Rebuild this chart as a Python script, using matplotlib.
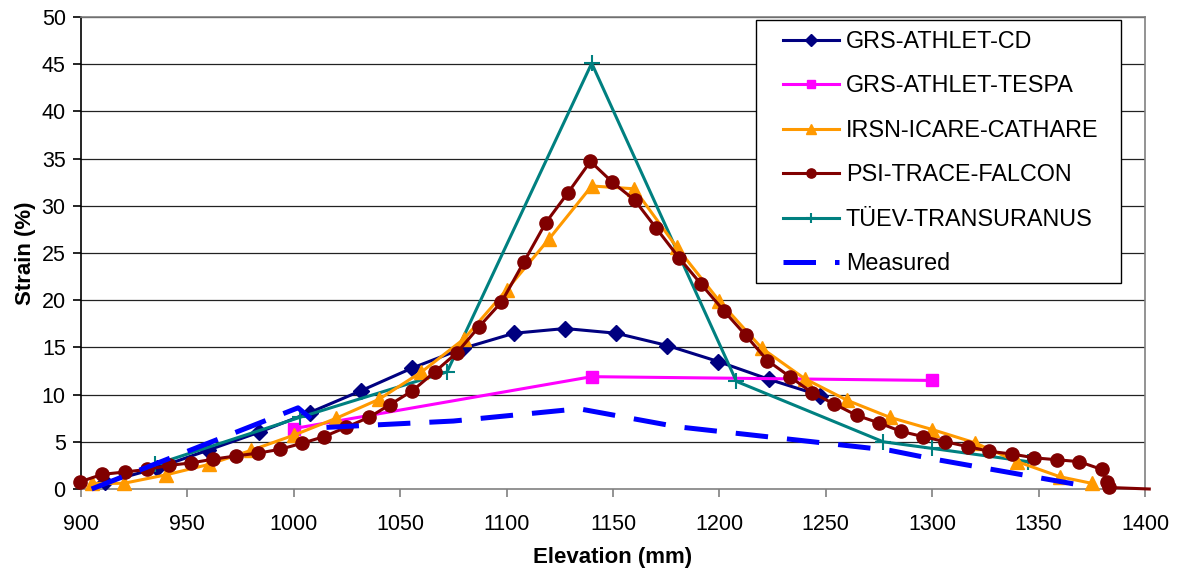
import matplotlib
matplotlib.use("Agg")
import matplotlib.pyplot as plt
from matplotlib.patches import Rectangle

plt.rcParams['font.family'] = ['Liberation Sans', 'DejaVu Sans']

# ---- data ----
cd_x = [911.5, 935.5, 959.5, 983.5, 1007.5, 1031.5, 1055.5, 1079.5, 1103.5, 1127.5,
        1151.5, 1175.5, 1199.5, 1223.5, 1247.5]
cd_y = [0.7, 2.2, 4.1, 6.0, 8.1, 10.4, 12.8, 14.9, 16.5, 17.0, 16.5, 15.2, 13.5, 11.6, 9.9]

tespa_x = [1000, 1140, 1300]
tespa_y = [6.4, 11.9, 11.5]

icare_x = [905, 920, 940, 960, 980, 1000, 1020, 1040, 1060, 1080, 1100, 1120, 1140, 1160,
           1180, 1200, 1220, 1240, 1260, 1280, 1300, 1320, 1340, 1360, 1375]
icare_y = [0.6, 0.6, 1.5, 2.6, 4.1, 5.7, 7.5, 9.5, 12.4, 15.9, 21.1, 26.5, 32.1, 31.8,
           25.6, 19.9, 14.9, 11.7, 9.4, 7.6, 6.3, 4.9, 2.9, 1.3, 0.6]

psi_x = [899.4, 910, 920.5, 931, 941.4, 951.9, 962, 972.7, 983.2, 993.4, 1004, 1014.2,
         1024.7, 1035.4, 1045.3, 1055.7, 1066.2, 1076.7, 1087.1, 1097.6, 1108, 1118.4,
         1128.9, 1139.4, 1149.7, 1160.2, 1170.4, 1181, 1191.4, 1202, 1212.3, 1222.6,
         1233.1, 1243.6, 1254, 1264.5, 1275, 1285.4, 1295.7, 1306.2, 1316.6, 1326.7,
         1337.6, 1348, 1358.5, 1369, 1379.7, 1382.3, 1383.3, 1402]
psi_y = [0.75, 1.55, 1.8, 2.07, 2.5, 2.77, 3.15, 3.5, 3.8, 4.2, 4.85, 5.55, 6.55, 7.6,
         8.95, 10.4, 12.4, 14.45, 17.2, 19.8, 24.0, 28.2, 31.4, 34.7, 32.5, 30.6, 27.6,
         24.5, 21.7, 18.9, 16.3, 13.6, 11.9, 10.2, 9.0, 7.8, 7.0, 6.1, 5.55, 5.0, 4.5,
         4.0, 3.7, 3.3, 3.1, 2.9, 2.07, 0.75, 0.16, 0.0]

tuev_x = [935, 1003, 1072, 1140, 1208, 1277, 1300, 1345]
tuev_y = [2.6, 7.6, 12.4, 45.1, 11.4, 5.0, 4.3, 2.9]

meas_x = [905, 1002, 1013, 1075, 1134, 1180, 1280, 1300, 1375]
meas_y = [0.0, 8.6, 6.5, 7.2, 8.5, 6.6, 4.1, 3.2, 0.2]

labels = ["GRS-ATHLET-CD", "GRS-ATHLET-TESPA", "IRSN-ICARE-CATHARE",
          "PSI-TRACE-FALCON", "TÜEV-TRANSURANUS", "Measured"]
xticks = [900, 950, 1000, 1050, 1100, 1150, 1200, 1250, 1300, 1350, 1400]
yticks = [0, 5, 10, 15, 20, 25, 30, 35, 40, 45, 50]

# ---- figure ----
W, H = 1178, 575
fig = plt.figure(figsize=(W / 100, H / 100), dpi=100)
ax = fig.add_axes([81 / W, 1 - 489 / H, (1145 - 81) / W, (489 - 17) / H])

ax.set_xlim(900, 1400)
ax.set_ylim(0, 50)
ax.set_xticks(xticks)
ax.set_yticks(yticks)

for v in yticks[1:]:
    ax.axhline(v, color='#222222', lw=0.9, zorder=0)

lw = 2.2
ax.plot(cd_x, cd_y, color='#000080', lw=lw, marker='D', ms=8.5, label=labels[0], zorder=3, clip_on=False)
ax.plot(tespa_x, tespa_y, color='#FF00FF', lw=lw, marker='s', ms=9, label=labels[1], zorder=3, clip_on=False)
ax.plot(icare_x, icare_y, color='#FF9900', lw=lw, marker='^', ms=10.5, label=labels[2], zorder=4, clip_on=False)
ax.plot(psi_x, psi_y, color='#800000', lw=lw, marker='o', ms=9.5,
        markevery=list(range(len(psi_x) - 1)), label=labels[3], zorder=5, clip_on=False)
ax.plot(tuev_x, tuev_y, color='#008080', lw=lw, marker='+', ms=11, mew=1.5, label=labels[4], zorder=3, clip_on=False)
ax.plot(meas_x, meas_y, color='#0000FF', lw=3.6, dashes=(6.5, 3.8), label=labels[5], zorder=6, clip_on=False)

for s in ['top', 'right', 'bottom']:
    ax.spines[s].set_color('#808080')
    ax.spines[s].set_linewidth(1.2)
ax.spines['left'].set_color('black')
ax.spines['left'].set_linewidth(1.2)

ax.tick_params(axis='x', direction='out', length=6, width=1.2, color='#808080', labelsize=15.5, pad=12)
ax.tick_params(axis='y', direction='out', length=6, width=1.2, color='black', labelsize=15.5, pad=5)

ax.set_xlabel("Elevation (mm)", fontsize=16, fontweight='bold', labelpad=9)
ax.set_ylabel("Strain (%)", fontsize=16, fontweight='bold', labelpad=4)

# legend box (drawn separately) and entries
box = Rectangle((756 / W, 1 - 283 / H), (1121 - 756) / W, (283 - 20) / H,
                transform=fig.transFigure, facecolor='white', edgecolor='black',
                lw=1.0, zorder=9, clip_on=False)
ax.add_patch(box)

leg = ax.legend(loc='upper left', bbox_to_anchor=(783 / W, 1 - 30 / H),
                bbox_transform=fig.transFigure, borderaxespad=0, borderpad=0,
                fontsize=16.8, frameon=False, handlelength=2.4, handletextpad=0.3,
                labelspacing=0.92, markerscale=0.7)
leg.set_zorder(10)

fig.savefig("out.png", dpi=100)
